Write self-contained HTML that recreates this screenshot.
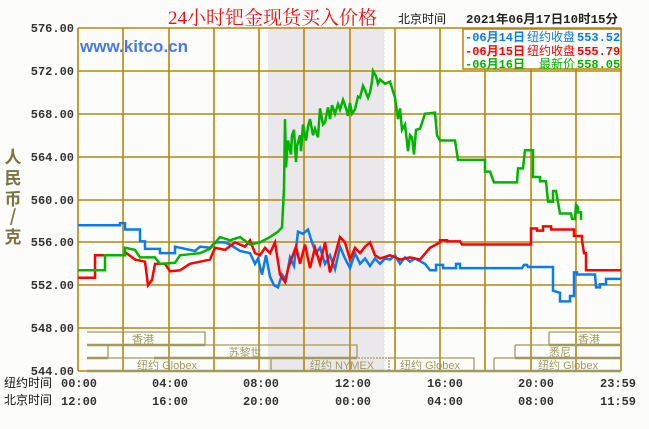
<!DOCTYPE html>
<html><head><meta charset="utf-8"><style>
html,body{margin:0;padding:0;background:#fcfdfa;}
svg{display:block;font-family:"Liberation Mono","Noto Sans CJK SC",monospace;}
</style></head><body>
<svg width="649" height="429" viewBox="0 0 649 429" xmlns="http://www.w3.org/2000/svg">
<rect width="649" height="429" fill="#fcfdfa"/>
<rect x="268" y="28" width="116" height="343" fill="#ebe8ec"/>
<line x1="384" y1="28" x2="384" y2="371" stroke="#ddd" stroke-dasharray="2,2"/>
<g stroke="#b8860b" stroke-width="1.6" fill="none">
<path d="M78,28V371M123,28V371M169,28V371M214,28V371M259,28V371M304,28V371M350,28V371M395,28V371M440,28V371M485,28V371M531,28V371M576,28V371M621,28V371"/>
<path d="M78,28H621M78,71H621M78,114H621M78,157H621M78,200H621M78,242H621M78,285H621M78,328H621M78,371H621"/>
</g>
<g fill="none" stroke="#a09a60" stroke-width="1.3">
<path d="M87,332H205V345M87,345H108V358M154,345H357V358M549,332H621M549,332V345M515,345H621M515,345V358M87,358H271V371M389,358H474V371M494,358H621M494,358V371"/>
<path d="M271,358H389V371" stroke-dasharray="2,1"/>
</g>
<g stroke="#a09a60" stroke-width="2.5"><path d="M87,345H205M87,358H108M154,358H357M87,371H621M549,345H621M515,358H621"/></g>
<g font-size="11" fill="#a09a60" font-family="Liberation Sans,'Noto Sans CJK SC',sans-serif" text-anchor="middle">
<text x="143" y="343">香港</text><text x="589" y="343">香港</text>
<text x="245" y="356">苏黎世</text><text x="560" y="356">悉尼</text>
<text x="167" y="369">纽约 Globex</text><text x="342" y="369">纽约 NYMEX</text><text x="430" y="369">纽约 Globex</text><text x="568" y="369">纽约 Globex</text>
</g>
<g transform="matrix(1 0 0 -10.72 0 6202.72)" fill="none" stroke-width="2.5" stroke-linejoin="miter">
<polyline vector-effect="non-scaling-stroke" stroke="#0a7cf0" points="78,557.6 120,557.6 120,557.8 125,557.8 125,557.2 140,557.2 140,556.1 145,556.1 145,555.4 160,555.4 160,555 175,555 175,555.6 185,555.4 195,555.2 200,555.6 210,555.5 215,556 225,556 230,555.8 240,555.2 250,555 255,554 258,554.5 262,553 266,554.8 270,552.8 274,552 278,551.8 282,553 286,552.5 290,554.6 294,553.8 298,557 303,556.8 308,557.2 312,556 316,555 320,555.5 325,554 330,554.8 335,553.5 340,555.6 345,554.5 350,553.6 355,555 360,554 365,554.5 370,553.8 375,554.5 380,554 385,554.5 390,554.4 395,554.8 400,554 405,554.6 410,554.2 415,554.5 425,554 430,553.4 436,553.4 436,553.9 443,553.9 443,553.6 456,553.6 456,554 460,554 460,553.6 522,553.6 524,553.9 527,553.9 528,553.7 553,553.7 553,551.5 560,551.3 560,550.5 570,550.5 570,551 574,551 574,553.2 577,553.2 577,553 595,553 596,551.8 600,551.8 600,552.1 606,552.1 606,552.6 621,552.6"/>
<polyline vector-effect="non-scaling-stroke" stroke="#ff0000" points="78,552.7 95,552.7 95,554.8 125,554.8 125,555.1 135,554.4 145,554.2 148,552 152,552.5 155,554 165,554 170,553.3 180,553.4 190,554 200,554.2 210,554.4 215,555.5 225,555.3 235,556 245,555.6 250,556.2 255,555 260,554.8 265,555.5 270,555 275,556 280,553 285,552.3 288,553.5 292,554.6 296,555.6 300,554 305,555.8 310,553.6 315,555.5 320,554 325,556 330,553.2 335,554.8 340,556.5 345,556 350,554.4 355,555.5 360,555 365,555.6 370,556 375,554.8 380,554.5 390,554.8 400,554.4 410,554.6 420,554.4 430,555.5 440,556 440,556.2 447,556.2 447,556.1 460,556.1 462,555.8 531,555.8 531,557.3 537,557.3 537,557.1 543,557.1 543,557.5 551,557.5 551,557.2 574,557.2 574,556.6 582,556.6 582,556.2 584,555 586,555 586,553.4 621,553.4"/>
<polyline vector-effect="non-scaling-stroke" stroke="#00b400" points="78,553.4 105,553.4 105,554.8 125,554.8 125,555.5 135,555.3 140,554.6 155,554.6 160,554 175,554.1 180,554.8 190,554.9 200,555 210,555.4 220,556.5 230,556.2 240,556.5 250,555.8 260,556 270,556.5 278,557 282,557.4 284,561 285,567.5 286,563 288,565.5 291,564.2 292,566 294,566.5 296,563.5 297,565 300,566 301,564.5 303,567 306,565.5 308,566.8 310,567.5 313,566 315,566.6 318,565.8 320,568.5 323,567 325,567.2 328,568.6 330,567.5 332,568.8 335,568 338,568.9 340,568.4 343,569.3 346,568.5 348,567.8 350,569 352,568 355,568.4 358,569.6 360,569.5 363,570.6 365,570.2 368,569.5 370,570 372,571 373,572 376,571.5 378,570.8 380,571.2 385,570.8 390,571 395,569.5 398,567.5 400,568.5 402,566.5 405,567 408,564.5 410,566 412,565.8 414,564.2 416,566.5 420,566.6 425,568 435,568.1 437,566 440,565.5 455,565.5 458,563.7 485,563.7 485,562.6 490,562.6 494,561.6 517,561.6 518,562.9 523,562.9 525,564.6 533,564.6 533,562.1 540,562.1 540,561.7 546,561.7 548,559.8 553,559.8 553,560.8 556,560.8 560,558.7 571,558.7 572,558.2 575,558.2 576,559.5 578,559.3 578,558.8 581,558.8 581,558.1"/>
</g>
<g font-size="12" font-weight="bold" fill="#333" text-anchor="end">
<text x="74" y="32">576.00</text><text x="74" y="75">572.00</text><text x="74" y="118">568.00</text><text x="74" y="161">564.00</text><text x="74" y="204">560.00</text><text x="74" y="246">556.00</text><text x="74" y="289">552.00</text><text x="74" y="332">548.00</text><text x="74" y="375">544.00</text>
</g>
<g font-size="17" font-weight="bold" fill="#7a7440" text-anchor="middle" font-family="'Noto Sans CJK SC',sans-serif">
<text x="13" y="163">人</text><text x="13" y="184">民</text><text x="13" y="205">币</text><text x="13" y="222">/</text><text x="13" y="243">克</text>
</g>
<text x="80" y="52" font-family="Liberation Sans,sans-serif" font-size="17" font-weight="bold" fill="#4a78e8">www.kitco.cn</text>
<text x="168" y="24" font-family="'Liberation Serif','Noto Serif CJK SC',serif" font-size="19" fill="#ee1111">24小时钯金现货买入价格</text>
<text x="398" y="23" font-size="12" fill="#111" font-family="'Liberation Sans','Noto Sans CJK SC',sans-serif">北京时间</text>
<text x="466" y="23" font-size="12" fill="#222" font-weight="bold" textLength="152" lengthAdjust="spacingAndGlyphs">2021年06月17日10时15分</text>
<rect x="463" y="29" width="158" height="40" fill="#fcfdfa" stroke="#b8860b" stroke-width="1.5"/>
<g font-size="12" font-family="'Liberation Mono','Noto Sans CJK SC',monospace">
<text x="465" y="41" fill="#0a7cf0" font-weight="bold">-06月14日</text><text x="575" y="41" fill="#0a7cf0" text-anchor="end">纽约收盘</text><text x="577" y="41" fill="#0a7cf0" font-weight="bold">553.52</text>
<text x="465" y="55" fill="#ff0000" font-weight="bold">-06月15日</text><text x="575" y="55" fill="#ff0000" text-anchor="end">纽约收盘</text><text x="577" y="55" fill="#ff0000" font-weight="bold">555.79</text>
<text x="465" y="68" fill="#00b400" font-weight="bold">-06月16日</text><text x="575" y="68" fill="#00b400" text-anchor="end">最新价</text><text x="577" y="68" fill="#00b400" font-weight="bold">558.05</text>
</g>
<g font-size="12" font-weight="bold" fill="#333">
<text x="4" y="387" font-weight="normal" fill="#111" font-family="'Liberation Sans','Noto Sans CJK SC',sans-serif">纽约时间</text>
<text x="4" y="404" font-weight="normal" fill="#111" font-family="'Liberation Sans','Noto Sans CJK SC',sans-serif">北京时间</text>
<text x="61" y="387">00:00</text><text x="152" y="387">04:00</text><text x="243" y="387">08:00</text><text x="335" y="387">12:00</text><text x="427" y="387">16:00</text><text x="518" y="387">20:00</text><text x="600" y="387">23:59</text>
<text x="61" y="405">12:00</text><text x="152" y="405">16:00</text><text x="243" y="405">20:00</text><text x="335" y="405">00:00</text><text x="427" y="405">04:00</text><text x="518" y="405">08:00</text><text x="600" y="405">11:59</text>
</g>
</svg>
</body></html>
